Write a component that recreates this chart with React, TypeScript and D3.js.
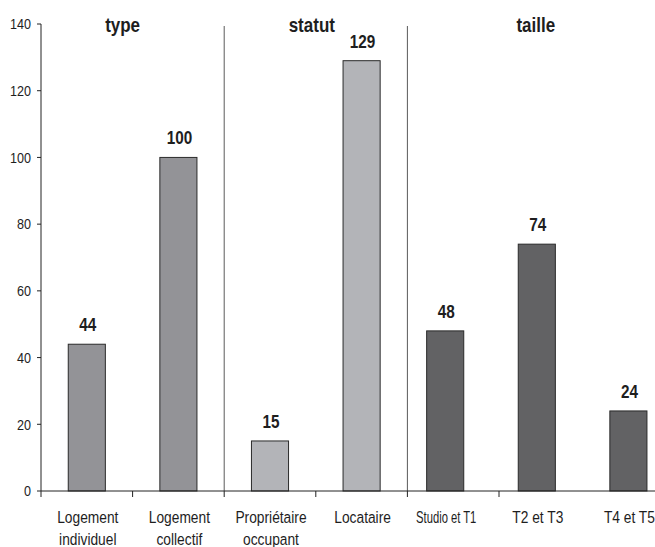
import React from "react";
import * as d3 from "d3";

const categories = [
  "Logement\nindividuel",
  "Logement\ncollectif",
  "Propriétaire\noccupant",
  "Locataire",
  "Studio et T1",
  "T2 et T3",
  "T4 et T5",
];
const values = [44, 100, 15, 129, 48, 74, 24];
const groups = ["type", "type", "statut", "statut", "taille", "taille", "taille"];
const groupTitles = ["type", "statut", "taille"];
const yTicks = [0, 20, 40, 60, 80, 100, 120, 140];

const groupColors: Record<string, string> = {
  type: "#939397",
  statut: "#b3b4b8",
  taille: "#626264",
};
const groupShift: Record<string, number> = { type: 0, statut: 0, taille: -8 };
const titleShift: Record<string, number> = { type: -10, statut: -4, taille: -9 };

const W = 655;
const H = 547;
const FONT = "'Liberation Sans', Arial, sans-serif";

function NText({
  x,
  y,
  sx = 0.82,
  size,
  bold,
  anchor = "middle",
  children,
  fill = "#1e1e1e",
}: {
  x: number;
  y: number;
  sx?: number;
  size: number;
  bold?: boolean;
  anchor?: string;
  children: React.ReactNode;
  fill?: string;
}) {
  return (
    <text
      transform={`translate(${x},${y}) scale(${sx},1)`}
      textAnchor={anchor}
      fontSize={size}
      fontWeight={bold ? "bold" : "normal"}
      fill={fill}
    >
      {children}
    </text>
  );
}

export default function App() {
  const x0 = 41;
  const step = 91.6;
  const x = d3
    .scaleBand<string>()
    .domain(categories)
    .range([x0, x0 + step * categories.length])
    .paddingInner(0)
    .paddingOuter(0);
  const y = d3.scaleLinear().domain([0, 140]).range([491, 24]);
  const barW = x.bandwidth() * 0.405;

  const groupStart: Record<string, number> = {};
  const groupEnd: Record<string, number> = {};
  categories.forEach((c, i) => {
    const g = groups[i];
    const s = x(c)!;
    if (groupStart[g] === undefined) groupStart[g] = s;
    groupEnd[g] = s + x.bandwidth();
  });

  const center = (c: string, i: number) => x(c)! + x.bandwidth() / 2 + groupShift[groups[i]];

  return (
    <svg
      width={W}
      height={H}
      style={{ position: "absolute", left: 0, top: 0, background: "#fff" }}
      fontFamily={FONT}
    >
      {/* y axis */}
      <line x1={x0} x2={x0} y1={y(140)} y2={y(0)} stroke="#222" strokeWidth={1} />
      {yTicks.map((t) => (
        <g key={t}>
          <line x1={x0 - 4} x2={x0} y1={y(t)} y2={y(t)} stroke="#222" />
          <NText x={x0 - 10} y={y(t) + 5.3} size={15} anchor="end" sx={0.84}>
            {t}
          </NText>
        </g>
      ))}

      {/* separators */}
      {groupTitles.slice(1).map((g) => (
        <line
          key={g}
          x1={groupStart[g]}
          x2={groupStart[g]}
          y1={26}
          y2={y(0)}
          stroke="#5a5a5a"
          strokeWidth={1}
        />
      ))}

      {/* bars */}
      {categories.map((c, i) => {
        const cx = center(c, i);
        return (
          <g key={c}>
            <rect
              x={cx - barW / 2}
              y={y(values[i])}
              width={barW}
              height={y(0) - y(values[i])}
              fill={groupColors[groups[i]]}
              stroke="#2a2a2a"
              strokeWidth={1}
            />
            <NText x={cx + 1} y={y(values[i]) - 13} size={18} bold sx={0.85}>
              {values[i]}
            </NText>
          </g>
        );
      })}

      {/* x axis */}
      <line x1={x0} x2={W} y1={y(0)} y2={y(0)} stroke="#222" strokeWidth={1} />
      {d3.range(6).map((i) => (
        <line
          key={i}
          x1={x0 + i * x.step()}
          x2={x0 + i * x.step()}
          y1={y(0)}
          y2={y(0) + 6}
          stroke="#222"
        />
      ))}

      {/* category labels */}
      {categories.map((c, i) => {
        const cx = center(c, i) + 1;
        const lines = c.split("\n");
        const small = c === "Studio et T1";
        return (
          <g key={c}>
            {lines.map((l, k) => (
              <NText key={k} x={cx} y={523 + k * 22} size={17} sx={small ? 0.66 : 0.81}>
                {l}
              </NText>
            ))}
          </g>
        );
      })}

      {/* group titles */}
      {groupTitles.map((g) => (
        <NText
          key={g}
          x={(groupStart[g] + groupEnd[g]) / 2 + titleShift[g]}
          y={31.5}
          size={20}
          bold
          sx={0.85}
        >
          {g}
        </NText>
      ))}
    </svg>
  );
}
